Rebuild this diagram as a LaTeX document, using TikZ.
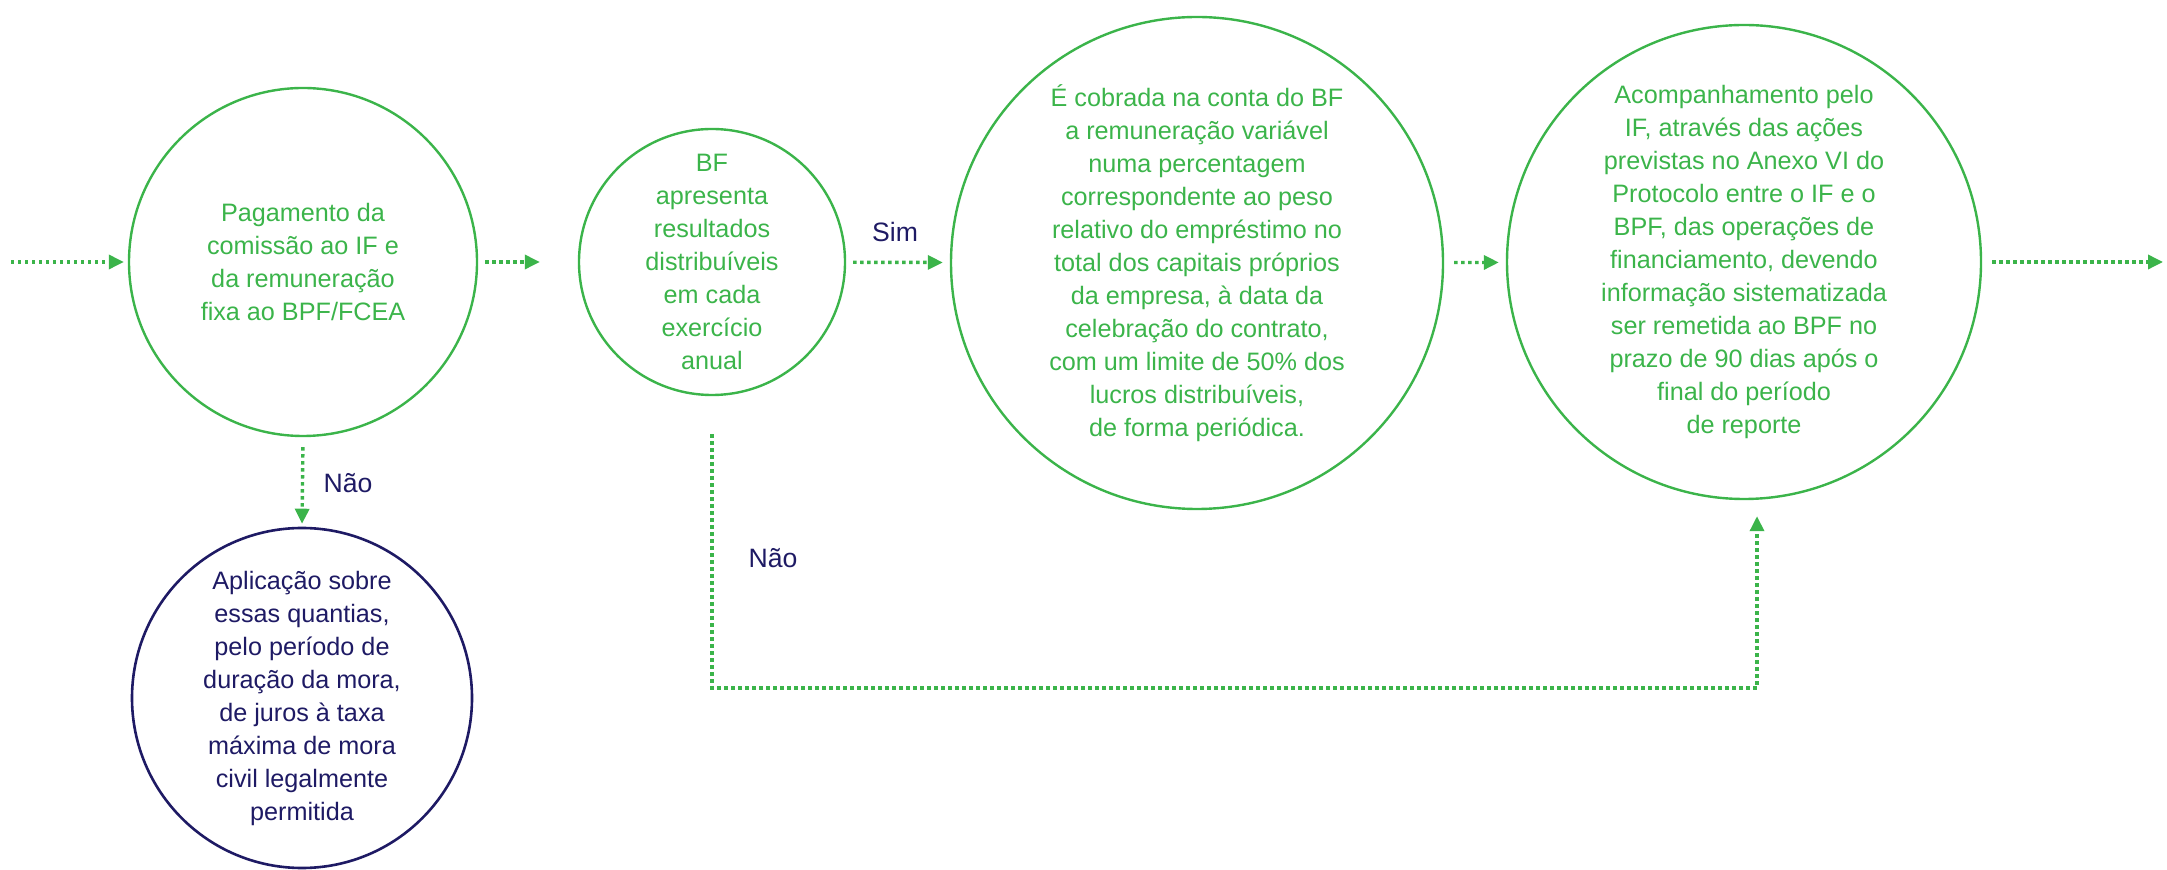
\documentclass[tikz,border=0pt]{standalone}
\usepackage{fontspec}
\setmainfont{Liberation Sans}
\usetikzlibrary{arrows.meta,calc}
\definecolor{grn}{RGB}{59,180,74}
\definecolor{nvy}{RGB}{30,26,100}
\begin{document}
\begin{tikzpicture}[x=0.5pt,y=-0.5pt,
  bubble/.style={circle, draw=grn, line width=1.2pt, text=grn, align=center, inner sep=0pt,
    font=\fontsize{12.6pt}{16.5pt}\selectfont},
  navybubble/.style={bubble, draw=nvy, text=nvy, line width=1.3pt},
  flow/.style={draw=grn, line width=1.7pt, dash pattern=on 1.7pt off 1.8pt,
    -{Triangle[length=7.5pt,width=7pt,fill=grn]}},
  lbl/.style={text=nvy, font=\fontsize{13.3pt}{16pt}\selectfont, inner sep=0pt}]
\useasboundingbox (0,0) rectangle (2167,870);
\node[bubble, minimum size=174pt] (c1) at (303,262)
  {Pagamento da\\comissão ao IF e\\da remuneração\\fixa ao BPF/FCEA};
\node[bubble, minimum size=133pt] (c2) at (712,262)
  {BF\\apresenta\\resultados\\distribuíveis\\em cada\\exercício\\anual};
\node[bubble, minimum size=246pt] (c3) at (1197,263)
  {É cobrada na conta do BF\\a remuneração variável\\numa percentagem\\correspondente ao peso\\relativo do empréstimo no\\total dos capitais próprios\\da empresa, à data da\\celebração do contrato,\\com um limite de 50\% dos\\lucros distribuíveis,\\de forma periódica.};
\node[bubble, minimum size=237pt] (c4) at (1744,262)
  {Acompanhamento pelo\\IF, através das ações\\previstas no Anexo VI do\\Protocolo entre o IF e o\\BPF, das operações de\\financiamento, devendo\\informação sistematizada\\ser remetida ao BPF no\\prazo de 90 dias após o\\final do período\\de reporte};
\node[navybubble, minimum size=170pt] (c5) at (302,698)
  {Aplicação sobre\\essas quantias,\\pelo período de\\duração da mora,\\de juros à taxa\\máxima de mora\\civil legalmente\\permitida};

\coordinate (in) at (11,262);
\coordinate (out) at (2163,262);
\coordinate (b1) at (712,688);
\coordinate (b2) at (1757,688);

\draw[flow, shorten >=2pt] (in) -- (c1);
\draw[flow, shorten <=3.5pt, shorten >=19pt] (c1) -- (c2);
\draw[flow, shorten <=3.5pt, shorten >=3.5pt] (c2) -- (c3);
\draw[flow, shorten <=5pt, shorten >=3.5pt] (c3) -- (c4);
\draw[flow, shorten <=5pt] (c4) -- (out);
\draw[flow, shorten <=5pt, shorten >=1.5pt] (c1.south) -- (c5.north);
\draw[flow, shorten <=19pt] (c2.south) -- (b1) -- (b2) -- ($(c4.south)+(13,16)$);

\node[lbl] (sim) at (895,232) {Sim};
\node[lbl] (nao1) at (348,483) {Não};
\node[lbl] (nao2) at (773,558) {Não};
\end{tikzpicture}
\end{document}
